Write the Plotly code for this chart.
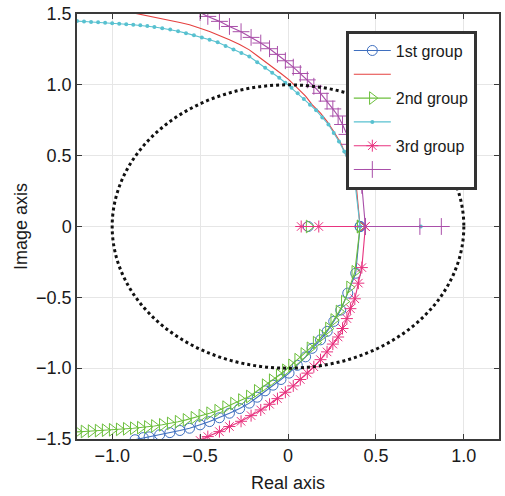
import plotly.graph_objects as go

# ---------------- data ----------------
# 1st group, lower branch (blue circles)
g1_lower_x = [0.41, 0.385, 0.34, 0.30, 0.26, 0.223, 0.185, 0.137, 0.10, 0.053, 0.006, -0.04, -0.085,
              -0.13, -0.175, -0.22, -0.275, -0.333, -0.39, -0.446, -0.50, -0.56, -0.615, -0.672,
              -0.73, -0.79, -0.823, -0.87]
g1_lower_y = [0.0, -0.33, -0.47, -0.59, -0.67, -0.74, -0.80, -0.86, -0.92, -0.98, -1.035, -1.08, -1.12,
              -1.16, -1.205, -1.247, -1.285, -1.318, -1.35, -1.377, -1.40, -1.424, -1.44, -1.455,
              -1.47, -1.485, -1.49, -1.505]
# 1st group, upper branch (red line)
g1_upper_x = [0.41, 0.385, 0.34, 0.30, 0.26, 0.223, 0.185, 0.137, 0.10, 0.053, 0.006, -0.04, -0.085,
              -0.13, -0.175, -0.22, -0.275, -0.333, -0.39, -0.446, -0.50, -0.56, -0.615, -0.672,
              -0.73, -0.79, -0.823, -0.87]
g1_upper_y = [0.0, 0.33, 0.47, 0.59, 0.67, 0.74, 0.80, 0.86, 0.92, 0.98, 1.035, 1.08, 1.12,
              1.16, 1.205, 1.247, 1.285, 1.318, 1.35, 1.377, 1.40, 1.424, 1.44, 1.455,
              1.47, 1.485, 1.49, 1.505]
g1_real_x = [0.115, 0.41]

# 2nd group, lower branch (green triangles)
g2_lower_x = [0.41, 0.38, 0.35, 0.32, 0.29, 0.26, 0.23, 0.195, 0.16, 0.125, 0.09, 0.055, 0.02, -0.015,
              -0.05, -0.09, -0.13, -0.175, -0.22, -0.265, -0.31, -0.355, -0.40, -0.446, -0.49, -0.535,
              -0.58, -0.625, -0.67, -0.715, -0.76, -0.80, -0.84, -0.88, -0.92, -0.96, -1.00, -1.04,
              -1.08, -1.12, -1.16, -1.20]
g2_lower_y = [0.0, -0.32, -0.43, -0.53, -0.60, -0.66, -0.72, -0.77, -0.82, -0.86, -0.90, -0.94, -0.98, -1.015,
              -1.05, -1.085, -1.12, -1.16, -1.20, -1.225, -1.25, -1.275, -1.30, -1.318, -1.335, -1.35,
              -1.365, -1.378, -1.39, -1.40, -1.408, -1.415, -1.42, -1.424, -1.428, -1.432, -1.435, -1.438,
              -1.441, -1.444, -1.447, -1.45]
# 2nd group, upper branch (cyan dots)
g2_upper_x = [0.41, 0.38, 0.35, 0.32, 0.29, 0.26, 0.23, 0.195, 0.16, 0.125, 0.09, 0.055, 0.02, -0.015,
              -0.05, -0.09, -0.13, -0.175, -0.22, -0.265, -0.31, -0.355, -0.40, -0.446, -0.49, -0.535,
              -0.58, -0.625, -0.67, -0.715, -0.76, -0.80, -0.84, -0.88, -0.92, -0.96, -1.00, -1.04,
              -1.08, -1.12, -1.16, -1.20]
g2_upper_y = [0.0, 0.32, 0.43, 0.53, 0.60, 0.66, 0.72, 0.77, 0.82, 0.86, 0.90, 0.94, 0.98, 1.015,
              1.05, 1.085, 1.12, 1.16, 1.20, 1.225, 1.25, 1.275, 1.30, 1.318, 1.335, 1.35,
              1.365, 1.378, 1.39, 1.40, 1.408, 1.415, 1.42, 1.424, 1.428, 1.432, 1.435, 1.438,
              1.441, 1.444, 1.447, 1.45]
g2_real_x = [0.12, 0.41, 0.755]

# 3rd group, lower branch (pink stars)
g3_lower_x = [0.44, 0.42, 0.40, 0.38, 0.355, 0.335, 0.31, 0.285, 0.255, 0.222, 0.185, 0.147, 0.11, 0.07,
              0.03, -0.015, -0.06, -0.105, -0.155, -0.21, -0.267, -0.333, -0.39, -0.456, -0.50]
g3_lower_y = [0.0, -0.29, -0.40, -0.51, -0.58, -0.65, -0.72, -0.78, -0.83, -0.885, -0.94, -0.99, -1.035, -1.08,
              -1.125, -1.17, -1.215, -1.255, -1.295, -1.335, -1.375, -1.412, -1.448, -1.483, -1.51]
# 3rd group, upper branch (purple plus)
g3_upper_x = [0.44, 0.42, 0.40, 0.38, 0.355, 0.335, 0.31, 0.285, 0.255, 0.222, 0.185, 0.147, 0.11, 0.07,
              0.03, -0.015, -0.06, -0.105, -0.155, -0.21, -0.267, -0.333, -0.39, -0.456, -0.50]
g3_upper_y = [0.0, 0.29, 0.40, 0.51, 0.58, 0.65, 0.72, 0.78, 0.83, 0.885, 0.94, 0.99, 1.035, 1.08,
              1.125, 1.17, 1.215, 1.255, 1.295, 1.335, 1.375, 1.412, 1.448, 1.483, 1.51]
g3_real_lower_x = [0.075, 0.175, 0.44]
g3_real_upper_x = [0.44, 0.75, 0.872]

legend_names = ["1st group", " ", "2nd group", " ", "3rd group", " "]
x_ticks = [-1.0, -0.5, 0.0, 0.5, 1.0]
x_tick_text = ["\u22121.0", "\u22120.5", "0", "0.5", "1.0"]
y_ticks = [-1.5, -1.0, -0.5, 0.0, 0.5, 1.0, 1.5]
y_tick_text = ["\u22121.5", "\u22121.0", "\u22120.5", "0", "0.5", "1.0", "1.5"]

# ---------------- styles ----------------
C_BLUE = "#3f6fbf"
C_RED = "#e5403f"
C_GREEN = "#6cbf3c"
C_CYAN = "#58c1d0"
C_PINK = "#e8337f"
C_PURPLE = "#a94fa9"


def join(xs_list, ys_list):
    X, Y = [], []
    for i, (xs, ys) in enumerate(zip(xs_list, ys_list)):
        if i:
            X.append(None)
            Y.append(None)
        X += list(xs)
        Y += list(ys)
    return X, Y


fig = go.Figure()

# unit circle reference (dotted)
fig.add_shape(type="circle", xref="x", yref="y", x0=-1, x1=1, y0=-1, y1=1,
              line=dict(color="#111111", width=3, dash="dot"), layer="above")

traces = [
    (join([g1_lower_x, g1_real_x], [g1_lower_y, [0] * len(g1_real_x)]), legend_names[0], C_BLUE,
     dict(symbol="circle-open", size=10, line=dict(width=1)), "lines+markers"),
    (join([g1_upper_x, g1_real_x], [g1_upper_y, [0] * len(g1_real_x)]), legend_names[1], C_RED,
     None, "lines"),
    (join([g2_lower_x, g2_real_x[:2]], [g2_lower_y, [0, 0]]), legend_names[2], C_GREEN,
     dict(symbol="triangle-right-open", size=11, line=dict(width=1)), "lines+markers"),
    (join([g2_upper_x, g2_real_x[1:]], [g2_upper_y, [0, 0]]), legend_names[3], C_CYAN,
     dict(symbol="circle", size=4), "lines+markers"),
    (join([g3_lower_x, g3_real_lower_x], [g3_lower_y, [0] * len(g3_real_lower_x)]), legend_names[4], C_PINK,
     dict(symbol="asterisk-open", size=10, line=dict(width=1, color=C_PINK)), "lines+markers"),
    (join([g3_upper_x, g3_real_upper_x], [g3_upper_y, [0] * len(g3_real_upper_x)]), legend_names[5], C_PURPLE,
     dict(symbol="cross-thin-open", size=12, line=dict(width=1, color=C_PURPLE)), "lines+markers"),
]

for (X, Y), name, color, marker, mode in traces:
    kw = dict(x=X, y=Y, name=name, mode=mode, line=dict(color=color, width=1.1))
    if marker is not None:
        m = dict(marker)
        m["color"] = color
        kw["marker"] = m
    fig.add_trace(go.Scatter(**kw))

axis_common = dict(
    showgrid=True, gridcolor="#e6e6e6", gridwidth=1,
    showline=True, linecolor="#3a3a3a", linewidth=1.5, mirror="ticks",
    ticks="inside", ticklen=5, tickcolor="#3a3a3a", tickwidth=1,
    zeroline=False,
    tickfont=dict(size=18, color="#1a1a1a"),
)

fig.update_layout(
    width=505, height=496,
    margin=dict(l=77, r=4, t=14, b=57),
    paper_bgcolor="white", plot_bgcolor="white",
    font=dict(family="Liberation Sans, Arial, sans-serif", size=18, color="#1a1a1a"),
    xaxis=dict(range=[-1.2, 1.2], tickvals=x_ticks, ticktext=x_tick_text,
               title=dict(text="Real axis", font=dict(size=18), standoff=11), **axis_common),
    yaxis=dict(range=[-1.5, 1.5], tickvals=y_ticks, ticktext=y_tick_text,
               title=dict(text="Image axis", font=dict(size=18), standoff=4), **axis_common),
    legend=dict(x=0.637, y=0.961, xanchor="left", yanchor="top",
                bgcolor="white", bordercolor="#333333", borderwidth=3,
                font=dict(size=16), tracegroupgap=0, itemwidth=37),
    showlegend=True,
)

fig.write_html("out.html")
